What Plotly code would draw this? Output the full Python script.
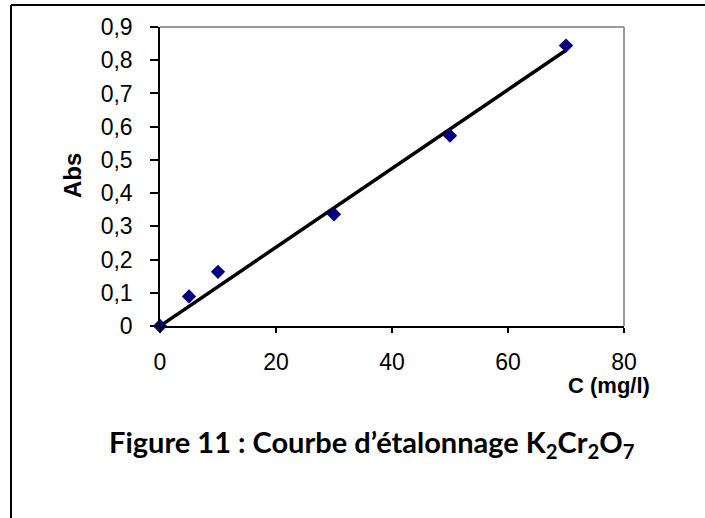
import numpy as np
import plotly.graph_objects as go

conc = [0, 5, 10, 30, 50, 70]
absorb = [0.0, 0.089, 0.163, 0.336, 0.573, 0.844]
x_ticks = [0, 20, 40, 60, 80]
y_ticks = [0, 0.1, 0.2, 0.3, 0.4, 0.5, 0.6, 0.7, 0.8, 0.9]

xa = np.array(conc, dtype=float)
ya = np.array(absorb, dtype=float)
slope = float((xa * ya).sum() / (xa * xa).sum())
fit_x = [min(conc), max(conc)]
fit_y = [slope * v for v in fit_x]

L, R, T, B = 160, 705 - 624, 27, 518 - 326
W, H = 705, 518
pw, ph = W - L - R, H - T - B

def px(x):
    return (x - L) / pw

def py(y):
    return (H - B - y) / ph

tick_font = dict(family="Liberation Sans, Arial, sans-serif", size=23, color="black")

fig = go.Figure()
fig.add_trace(go.Scatter(x=fit_x, y=fit_y, mode="lines",
                         line=dict(color="black", width=3.5), showlegend=False,
                         cliponaxis=False))
fig.add_trace(go.Scatter(x=conc, y=absorb, mode="markers",
                         marker=dict(symbol="diamond", size=11, color="#000080"),
                         showlegend=False, cliponaxis=False))

fig.update_layout(
    width=W, height=H,
    margin=dict(l=L, r=R, t=T, b=B, pad=0),
    paper_bgcolor="white", plot_bgcolor="white",
    separators=", ",
    font=dict(family="Liberation Sans, Arial, sans-serif", size=23, color="black"),
    xaxis=dict(range=[0, 80], tickvals=x_ticks, showgrid=False, zeroline=False,
               showline=True, linecolor="black", linewidth=1.5,
               ticks="outside", ticklen=5, tickwidth=1.5, tickcolor="black",
               ticklabelstandoff=10, tickfont=tick_font, mirror=False),
    yaxis=dict(range=[0, 0.9], tickvals=y_ticks, showgrid=False, zeroline=False,
               showline=True, linecolor="black", linewidth=1.5,
               ticks="outside", ticklen=8, tickwidth=1.5, tickcolor="black",
               ticklabelstandoff=13, tickfont=tick_font, mirror=False),
    shapes=[
        dict(type="line", xref="paper", yref="paper", x0=0, x1=1, y0=1, y1=1,
             line=dict(color="#999999", width=2)),
        dict(type="line", xref="paper", yref="paper", x0=1, x1=1, y0=0, y1=1,
             line=dict(color="#999999", width=2)),
        dict(type="line", xref="paper", yref="paper", x0=px(11), x1=px(706),
             y0=py(5), y1=py(5), line=dict(color="black", width=2)),
        dict(type="line", xref="paper", yref="paper", x0=px(11), x1=px(11),
             y0=py(5), y1=py(530), line=dict(color="black", width=2)),
    ],
    annotations=[
        dict(text="<b>Abs</b>", xref="paper", yref="paper", x=px(72), y=py(176),
             showarrow=False, textangle=-90,
             font=dict(family="Liberation Sans, Arial, sans-serif", size=24),
             xanchor="center", yanchor="middle"),
        dict(text="<b>C (mg/l)</b>", xref="paper", yref="paper", x=px(652), y=py(385),
             showarrow=False,
             font=dict(family="Liberation Sans, Arial, sans-serif", size=22),
             xanchor="right", yanchor="middle"),
        dict(text="<b>Figure 11 : Courbe d’étalonnage K<sub>2</sub>Cr<sub>2</sub>O<sub>7</sub></b>",
             xref="paper", yref="paper", x=px(372), y=py(443), showarrow=False,
             font=dict(family="Lato, Open Sans, sans-serif", size=29),
             xanchor="center", yanchor="middle"),
    ],
)

fig.write_html("out.html")
